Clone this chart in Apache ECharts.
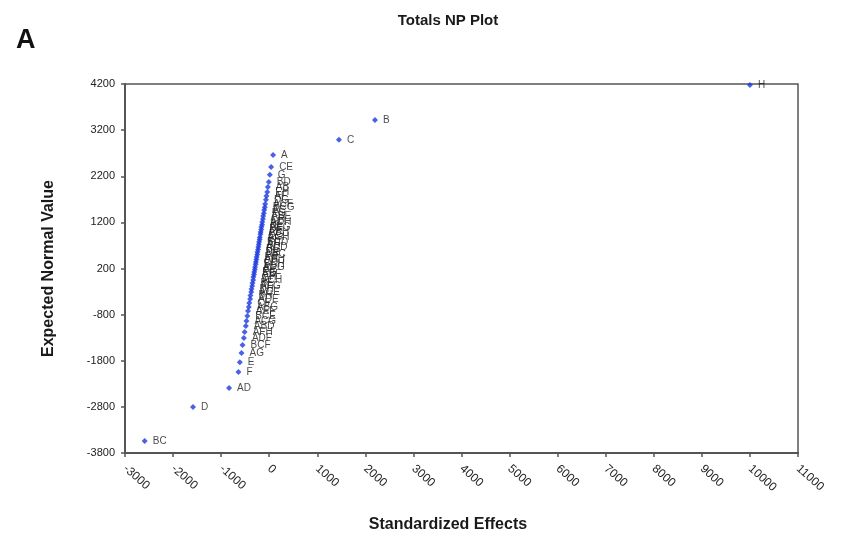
<!DOCTYPE html>
<html>
<head>
<meta charset="utf-8">
<title>Totals NP Plot</title>
<script src="https://cdn.jsdelivr.net/npm/echarts@6/dist/echarts.min.js"></script>
<style>
  html, body { margin: 0; padding: 0; background: #ffffff; }
  #chart { width: 850px; height: 543px; }
</style>
</head>
<body>
<div id="chart"></div>
<script>
// Effect names, standardized effects (x) and expected normal values (y)
const effectNames = [
  'H', 'B', 'C', 'A',
  'CE', 'G', 'BD', 'AB', 'EH', 'AF', 'DG', 'ACF', 'BCG', 'AC', 'FG', 'ABE', 'CH', 'ADH',
  'BE', 'AEG', 'DF', 'ABH', 'CG', 'AGH', 'EF', 'BCD', 'AH', 'ACD', 'BG', 'DE', 'ABC', 'FH',
  'AEH', 'CD', 'BCH', 'ADG', 'AE', 'EG', 'ABF', 'GH', 'ACH', 'BF', 'AFG', 'DH', 'ACE', 'BH',
  'ADE', 'CF', 'ABG', 'AEF', 'BCE', 'ACG', 'ABD', 'AFH', 'ADF', 'BCF', 'AG', 'E', 'F',
  'AD', 'D', 'BC'
];
const effectValues = [
  10000, 2200, 1450, 80,
  40, 12, -8, -28, -41, -58, -68, -85, -91, -105, -112, -126, -131, -145,
  -149, -163, -166, -178, -183, -195, -199, -211, -216, -227, -232, -245, -249, -262,
  -266, -278, -282, -295, -299, -311, -316, -329, -334, -348, -354, -369, -374, -390,
  -397, -415, -424, -441, -455, -474, -487, -511, -527, -555, -577, -611, -640,
  -835, -1585, -2590
];
const normalValues = [
  4180, 3420, 2990, 2660,
  2400, 2230, 2075, 1965, 1860, 1770, 1690, 1600, 1530, 1470, 1400, 1340, 1275, 1210,
  1150, 1100, 1045, 990, 940, 880, 830, 775, 720, 665, 610, 560, 505, 450,
  395, 340, 290, 235, 180, 125, 70, 15, -50, -115, -180, -245, -310, -385,
  -460, -550, -635, -720, -830, -940, -1045, -1175, -1305, -1460, -1630, -1830, -2045,
  -2390, -2800, -3540
];

// Axis ranges and tick steps
const xMin = -3000, xMax = 11000, xStep = 1000;
const yMin = -3800, yMax = 4200, yStep = 1000;

const points = effectNames.map((name, i) => [effectValues[i], normalValues[i], name]);

const FONT = '"Liberation Sans", Arial, sans-serif';
const chart = echarts.init(document.getElementById('chart'), null, { renderer: 'canvas' });

chart.setOption({
  backgroundColor: '#ffffff',
  animation: false,
  textStyle: { fontFamily: FONT },
  title: [
    {
      text: 'Totals NP Plot',
      left: 443, top: 8, textAlign: 'center',
      textStyle: { fontSize: 15, fontWeight: 'bold', color: '#1a1a1a', fontFamily: FONT }
    },
    {
      text: 'A',
      left: 11, top: 22,
      textStyle: { fontSize: 27, fontWeight: 'bold', color: '#111', fontFamily: FONT }
    },
    {
      text: 'Standardized Effects',
      left: 443, top: 512, textAlign: 'center',
      textStyle: { fontSize: 16, fontWeight: 'bold', color: '#1a1a1a', fontFamily: FONT }
    }
  ],
  grid: {
    left: 125, right: 52, top: 84, bottom: 90,
    show: true, borderColor: '#555', borderWidth: 1.5, backgroundColor: '#ffffff'
  },
  xAxis: {
    type: 'value',
    min: xMin, max: xMax, interval: xStep,
    axisLine: { show: true, onZero: false, lineStyle: { color: '#555', width: 2 } },
    axisTick: { show: true, length: 4, lineStyle: { color: '#555', width: 1.5 } },
    splitLine: { show: false },
    axisLabel: {
      rotate: -42, margin: 14,
      fontSize: 12, color: '#222', fontFamily: FONT,
      showMaxLabel: true, showMinLabel: true,
      formatter: v => String(v)
    }
  },
  yAxis: {
    type: 'value',
    min: yMin, max: yMax, interval: yStep,
    name: 'Expected Normal Value',
    nameLocation: 'middle', nameGap: 68,
    nameTextStyle: { fontSize: 16, fontWeight: 'bold', color: '#1a1a1a', fontFamily: FONT },
    axisLine: { show: true, onZero: false, lineStyle: { color: '#555', width: 2 } },
    axisTick: { show: true, length: 4, lineStyle: { color: '#555', width: 1.5 } },
    splitLine: { show: false },
    axisLabel: { fontSize: 11, color: '#222', margin: 10, fontFamily: FONT, formatter: v => String(v) }
  },
  series: [
    {
      type: 'scatter',
      data: points,
      symbol: 'diamond',
      symbolSize: 6,
      itemStyle: { color: '#1d3ae0' },
      label: {
        show: true,
        position: 'right',
        distance: 5,
        fontSize: 10,
        color: '#1a1a1a',
        fontFamily: FONT,
        formatter: p => p.data[2]
      },
      labelLayout: { hideOverlap: false }
    }
  ]
});
</script>
</body>
</html>
